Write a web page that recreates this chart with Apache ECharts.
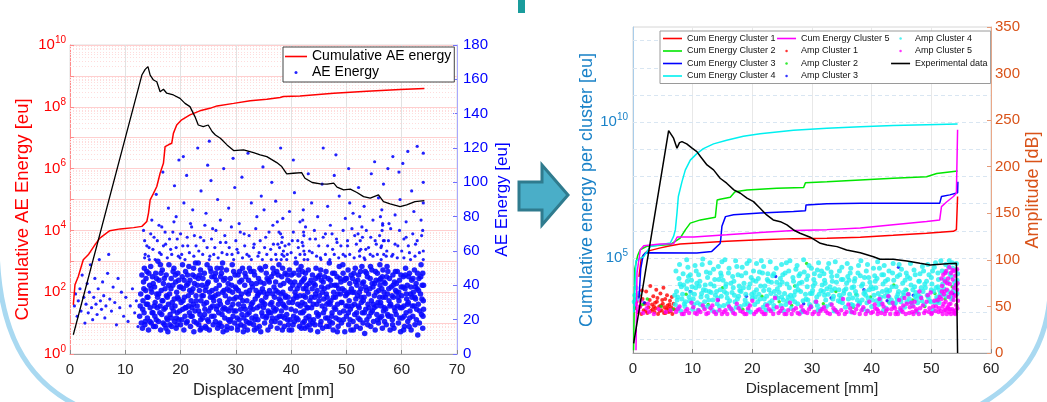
<!DOCTYPE html>
<html><head><meta charset="utf-8">
<script src="https://cdn.jsdelivr.net/npm/echarts@6.0.0/dist/echarts.min.js"></script>
<style>html,body{margin:0;padding:0;background:#fff}#c{width:1047px;height:402px}</style>
</head><body><div id="c"></div>
<script>
// ---------- LEFT CHART DATA ----------
// Cumulative AE energy [eu] vs displacement [mm]
const cumAe = [[0.6,39],[0.9,174],[1.5,324],[2.4,1.12e3],[3.3,1.62e3],[4.5,3.39e3],[5.4,5.62e3],[7.2,9.77e3],[9.1,1.12e4],[11.5,1.23e4],[13.0,1.35e4],[13.9,1.95e4],[14.2,3.63e4],[14.5,9.77e4],[15.1,1.58e5],[15.7,2.63e5],[16.3,7.08e5],[16.9,1.48e6],[17.2,5.13e6],[17.8,5.89e6],[18.4,6.61e6],[18.7,1.38e7],[19.3,2.57e7],[20.2,3.80e7],[21.7,5.50e7],[23.5,7.41e7],[25.3,8.91e7],[26.6,1.07e8],[29.6,1.29e8],[32.6,1.58e8],[35.6,1.74e8],[38.0,2.0e8],[38.6,2.14e8],[41.6,2.24e8],[47.7,2.75e8],[53.7,3.16e8],[59.7,3.63e8],[64.1,3.89e8]];
// experimental load curve (black), read on the 0-180 scale
const loadLeft = [[0.6,11.2],[13.0,162.5],[13.6,165.8],[14.1,167.4],[14.5,162.5],[15.1,159.6],[15.7,158.6],[16.3,152.8],[16.9,154.2],[17.5,151.9],[18.7,150.9],[19.9,148.9],[20.8,146.0],[21.7,144.1],[22.6,138.3],[23.2,133.4],[24.1,132.5],[25.0,133.4],[25.7,129.6],[26.3,127.6],[27.2,125.7],[28.4,121.8],[29.6,118.5],[31.4,118.9],[33.2,117.3],[34.4,116.0],[35.6,115.0],[37.4,111.5],[38.3,109.2],[39.2,104.9],[40.4,105.3],[41.9,105.7],[42.5,102.4],[43.8,99.9],[45.3,99.1],[46.5,98.9],[47.7,99.5],[48.3,97.2],[49.5,95.6],[50.7,96.0],[51.9,94.1],[53.1,91.7],[54.3,90.8],[55.8,92.7],[56.7,88.8],[57.9,87.5],[59.7,85.9],[60.9,86.9],[62.4,88.8],[64.1,89.4]];
// AE energy hits [eu]
const aeEnergy = [
[0.8,28],[1.0,35],[1.3,22],[1.5,31],[1.8,38],[2.0,25],[2.2,46],[2.5,33],[2.7,18],[2.9,29],[3.1,41],[3.3,24],[3.5,36],[3.7,52],[3.9,27],[4.1,20],[4.3,33],[4.5,44],[4.7,29],[4.9,23],[5.1,38],[5.3,55],[5.5,31],[5.7,26],[5.9,42],[6.1,34],[6.3,21],[6.5,28],[6.8,47],[7.0,58],[7.2,32],[7.5,25],[7.8,39],[8.1,30],[8.4,17],[8.7,44],[9.0,27],[9.3,36],[9.7,22],[10.1,33],[10.5,19],[10.9,28],[11.3,38],[11.7,24],[12.0,31],[12.3,16],
[12.6,22],[12.8,35],[12.9,18],[13.0,46],[12.7,28],
[13.1,15],[13.2,31],[13.3,42],[13.4,24],[13.5,56],[13.6,19],[13.7,37],[13.8,29],[13.9,48],[13.5,66],[13.3,72],
[14.0,21],[14.1,33],[14.2,14],[14.4,40],[14.5,27],[14.6,51],[14.7,18],[14.8,36],[14.9,45],[14.3,62],[14.8,78],
[15.0,24],[15.1,16],[15.3,39],[15.4,30],[15.5,47],[15.6,20],[15.7,35],[15.8,27],[15.9,54],[15.2,68],[15.6,93],
[16.0,19],[16.1,43],[16.3,28],[16.4,14],[16.5,37],[16.6,23],[16.7,49],[16.8,31],[16.9,41],[16.2,59],[16.6,74],[16.8,106],
[17.0,26],[17.1,17],[17.2,38],[17.4,46],[17.5,21],[17.6,33],[17.7,13],[17.8,29],[17.9,52],[17.3,64],[17.8,85],
[18.0,35],[18.1,23],[18.3,44],[18.4,16],[18.5,30],[18.6,40],[18.7,25],[18.8,50],[18.9,19],[18.2,61],[18.6,71],[18.9,98],
[19.0,28],[19.1,42],[19.2,15],[19.3,36],[19.4,24],[19.5,47],[19.6,32],[19.7,20],[19.8,39],[19.9,56],[19.4,67],[19.7,113],[19.2,80],
[20.0,17],[20.1,30],[20.3,45],[20.4,26],[20.5,38],[20.6,14],[20.7,33],[20.8,22],[20.9,48],[20.2,58],[20.6,88],[20.5,115],
[21.0,27],[21.1,40],[21.2,19],[21.4,34],[21.5,51],[21.6,24],[21.7,43],[21.8,16],[21.9,31],[21.3,63],[21.8,76],[21.1,104],
[22.0,36],[22.1,22],[22.2,46],[22.3,29],[22.4,13],[22.5,41],[22.6,25],[22.7,53],[22.8,34],[22.9,18],[22.5,69],[22.2,84],
[23.0,28],[23.2,44],[23.3,17],[23.4,37],[23.5,23],[23.6,49],[23.7,31],[23.8,15],[23.9,40],[23.3,60],[23.7,95],[23.1,120],
[24.0,21],[24.1,34],[24.3,47],[24.4,26],[24.5,16],[24.6,39],[24.7,30],[24.8,52],[24.9,20],[24.2,66],[24.6,82],[24.9,110],
[25.0,42],[25.1,25],[25.2,14],[25.4,33],[25.5,48],[25.6,22],[25.7,37],[25.8,28],[25.9,17],[25.3,57],[25.8,73],[25.5,101],[25.2,124],
[26.0,31],[26.1,45],[26.3,19],[26.4,38],[26.5,26],[26.6,50],[26.7,15],[26.8,35],[26.9,24],[26.2,62],[26.7,90],
[27.0,40],[27.1,18],[27.2,29],[27.4,47],[27.5,23],[27.6,36],[27.7,13],[27.8,43],[27.9,27],[27.5,59],[27.2,78],[27.8,108],
[28.0,21],[28.1,34],[28.3,49],[28.4,16],[28.5,30],[28.6,41],[28.7,25],[28.8,37],[28.9,19],[28.2,65],[28.7,85],
[29.0,44],[29.1,27],[29.2,15],[29.4,36],[29.5,22],[29.6,48],[29.7,32],[29.8,18],[29.9,39],[29.3,58],[29.8,97],[29.5,114],
[30.0,25],[30.1,38],[30.3,14],[30.4,46],[30.5,29],[30.6,20],[30.7,42],[30.8,33],[30.9,17],[30.2,61],[30.6,76],
[31.0,35],[31.1,23],[31.2,50],[31.4,28],[31.5,16],[31.6,40],[31.7,26],[31.8,45],[31.9,19],[31.5,70],[31.1,103],
[32.0,31],[32.1,14],[32.3,43],[32.4,24],[32.5,37],[32.6,18],[32.7,48],[32.8,29],[32.9,21],[32.4,57],[32.8,88],[32.2,117],
[33.0,39],[33.1,26],[33.2,17],[33.4,46],[33.5,32],[33.6,22],[33.7,41],[33.8,15],[33.9,34],[33.3,64],[33.8,80],
[34.0,20],[34.1,44],[34.3,28],[34.4,36],[34.5,13],[34.6,49],[34.7,24],[34.8,38],[34.9,30],[34.2,59],[34.6,92],[34.9,109],
[35.0,27],[35.1,41],[35.2,18],[35.4,33],[35.5,47],[35.6,22],[35.7,35],[35.8,14],[35.9,43],[35.4,68],[35.1,84],
[36.0,24],[36.1,37],[36.3,16],[36.4,45],[36.5,30],[36.6,21],[36.7,50],[36.8,27],[36.9,39],[36.3,61],[36.7,75],[36.5,100],
[37.0,33],[37.1,19],[37.2,42],[37.3,26],[37.4,48],[37.5,15],[37.6,36],[37.7,29],[37.8,52],[37.9,22],[37.6,64],[37.8,71],[37.2,89],
[38.0,18],[38.05,40],[38.1,31],[38.2,55],[38.25,25],[38.3,45],[38.4,14],[38.5,36],[38.6,60],[38.7,28],[38.8,21],[38.9,47],[38.4,68],[38.1,120],
[39.0,34],[39.2,23],[39.4,43],[39.5,17],[39.6,30],[39.7,49],[39.8,20],[39.9,38],[39.3,58],[39.7,83],
[40.0,26],[40.1,14],[40.3,40],[40.4,32],[40.5,47],[40.6,19],[40.7,36],[40.8,25],[40.9,53],[40.2,66],[40.6,94],[40.4,113],
[41.0,21],[41.1,38],[41.2,29],[41.4,46],[41.5,16],[41.6,34],[41.7,24],[41.8,51],[41.9,42],[41.3,62],[41.6,77],
[42.0,30],[42.05,48],[42.1,18],[42.15,63],[42.2,38],[42.25,71],[42.3,25],[42.35,55],[42.4,44],[42.5,15],[42.6,33],[42.7,21],[42.8,40],[42.9,27],[42.2,84],
[43.0,36],[43.1,49],[43.2,22],[43.4,31],[43.5,14],[43.6,43],[43.7,27],[43.8,38],[43.9,18],[43.3,60],[43.7,88],[43.1,105],
[44.0,29],[44.1,41],[44.3,17],[44.4,35],[44.5,50],[44.6,24],[44.7,37],[44.8,13],[44.9,45],[44.4,67],[44.8,80],
[45.0,23],[45.1,34],[45.2,46],[45.4,19],[45.5,39],[45.6,28],[45.7,15],[45.8,42],[45.9,32],[45.3,56],[45.6,99],[45.8,120],
[46.0,38],[46.1,26],[46.3,48],[46.4,16],[46.5,33],[46.6,21],[46.7,44],[46.8,30],[46.9,53],[46.2,70],[46.6,86],
[47.0,19],[47.1,43],[47.2,31],[47.4,24],[47.5,47],[47.6,14],[47.7,36],[47.8,27],[47.9,40],[47.5,61],[47.1,75],[47.8,104],
[48.0,33],[48.1,21],[48.3,45],[48.4,29],[48.5,16],[48.6,38],[48.7,51],[48.8,24],[48.9,35],[48.3,65],[48.7,92],[48.1,116],
[49.0,42],[49.1,18],[49.2,30],[49.4,47],[49.5,25],[49.6,37],[49.7,13],[49.8,44],[49.9,28],[49.4,58],[49.8,79],
[50.0,22],[50.1,35],[50.3,49],[50.4,17],[50.5,31],[50.6,41],[50.7,26],[50.8,14],[50.9,38],[50.2,63],[50.6,88],[50.4,108],
[51.0,28],[51.1,44],[51.2,19],[51.4,36],[51.5,23],[51.6,50],[51.7,32],[51.8,16],[51.9,40],[51.5,69],[51.2,82],
[52.0,34],[52.1,21],[52.2,46],[52.3,27],[52.4,57],[52.5,15],[52.6,38],[52.7,30],[52.8,51],[52.9,24],[52.5,66],[52.8,74],[52.2,97],
[53.0,18],[53.1,42],[53.2,33],[53.3,12],[53.4,48],[53.5,26],[53.6,37],[53.7,20],[53.8,45],[53.9,29],[53.5,61],[53.2,86],
[54.0,35],[54.1,22],[54.3,44],[54.4,16],[54.5,31],[54.6,49],[54.7,25],[54.8,39],[54.9,19],[54.3,58],[54.8,78],[54.5,105],
[55.0,27],[55.1,41],[55.2,14],[55.4,36],[55.5,23],[55.6,47],[55.7,30],[55.8,18],[55.9,43],[55.4,64],[55.8,91],[55.1,112],
[56.0,33],[56.05,52],[56.1,21],[56.2,44],[56.25,62],[56.3,28],[56.4,38],[56.45,72],[56.5,15],[56.6,49],[56.7,25],[56.75,58],[56.8,36],[56.9,19],[56.4,84],[56.7,99],
[57.0,41],[57.1,26],[57.2,17],[57.4,35],[57.5,48],[57.6,22],[57.7,31],[57.8,44],[57.9,14],[57.3,60],[57.7,76],[57.5,108],
[58.0,29],[58.1,39],[58.3,20],[58.4,46],[58.5,33],[58.6,15],[58.7,42],[58.8,25],[58.9,37],[58.2,57],[58.8,81],[58.4,115],
[59.0,23],[59.1,36],[59.2,48],[59.4,18],[59.5,31],[59.6,43],[59.7,27],[59.8,13],[59.9,39],[59.3,63],[59.7,90],[59.5,106],
[60.0,34],[60.1,21],[60.3,45],[60.4,28],[60.5,16],[60.6,38],[60.7,50],[60.8,24],[60.9,32],[60.4,67],[60.8,77],[60.2,111],
[61.0,40],[61.1,19],[61.2,30],[61.4,47],[61.5,25],[61.6,35],[61.7,14],[61.8,43],[61.9,28],[61.4,59],[61.8,95],[61.1,118],
[62.0,22],[62.1,36],[62.3,49],[62.4,17],[62.5,32],[62.6,41],[62.7,26],[62.8,38],[62.9,11],[62.5,64],[62.2,83],[62.8,121],
[63.0,29],[63.1,44],[63.2,18],[63.4,35],[63.5,52],[63.6,23],[63.7,40],[63.8,15],[63.9,31],[63.8,47],[63.9,60],[63.8,72],[63.9,100],[63.9,117],[63.5,78],
[13.15,26],[13.35,38],[13.55,17],[13.75,44],[13.95,33],[13.45,50],
[14.05,29],[14.25,47],[14.45,19],[14.65,38],[14.85,24],[14.35,55],
[15.05,41],[15.25,28],[15.45,16],[15.65,44],[15.85,33],[15.35,22],
[16.05,35],[16.25,24],[16.45,47],[16.65,31],[16.85,18],[16.35,52],
[17.05,44],[17.25,27],[17.45,34],[17.65,20],[17.85,40],[17.35,15],
[18.05,17],[18.25,38],[18.45,27],[18.65,48],[18.85,32],[18.35,21],
[19.05,46],[19.25,21],[19.45,33],[19.65,43],[19.85,25],[19.35,17],
[20.05,39],[20.25,20],[20.45,31],[20.65,43],[20.85,27],[20.35,52],
[21.05,18],[21.25,46],[21.45,28],[21.65,37],[21.85,22],[21.35,41],
[22.05,27],[22.25,38],[22.45,19],[22.65,45],[22.85,31],[22.35,50],
[23.05,40],[23.25,25],[23.45,46],[23.65,20],[23.85,34],[23.55,14],
[24.05,44],[24.25,29],[24.45,37],[24.65,15],[24.85,41],[24.35,23],
[25.05,19],[25.25,36],[25.45,27],[25.65,45],[25.85,33],[25.35,50],
[26.05,22],[26.25,34],[26.45,43],[26.65,28],[26.85,17],[26.35,47],
[27.05,31],[27.25,45],[27.45,16],[27.65,26],[27.85,37],[27.35,50],
[28.05,44],[28.25,26],[28.45,38],[28.65,20],[28.85,32],[28.35,14],
[29.05,20],[29.25,40],[29.45,29],[29.65,25],[29.85,46],[29.35,52],
[30.05,33],[30.25,21],[30.45,37],[30.65,48],[30.85,26],[30.35,16],
[31.05,43],[31.25,31],[31.45,21],[31.65,47],[31.85,36],[31.35,13],
[32.05,23],[32.25,35],[32.45,50],[32.65,27],[32.85,41],[32.35,18],
[33.05,30],[33.25,48],[33.45,20],[33.65,37],[33.85,27],[33.35,14],
[34.05,35],[34.25,16],[34.45,42],[34.65,31],[34.85,22],[34.35,50],
[35.05,36],[35.25,29],[35.45,21],[35.65,44],[35.85,25],[35.35,51],
[36.05,42],[36.25,29],[36.45,19],[36.65,35],[36.85,47],[36.35,24],
[37.05,25],[37.25,37],[37.45,21],[37.65,46],[37.85,32],[37.35,55],
[38.15,35],[38.35,22],[38.45,50],[38.55,29],[38.65,41],[38.75,16],[38.95,33],[38.35,58],
[39.05,27],[39.25,46],[39.45,33],[39.65,14],[39.85,42],[39.35,20],
[40.05,46],[40.25,30],[40.45,22],[40.65,42],[40.85,34],[40.35,17],
[41.05,33],[41.25,20],[41.45,40],[41.65,28],[41.85,15],[41.35,49],
[42.08,24],[42.18,43],[42.28,34],[42.38,19],[42.48,29],[42.58,47],[42.68,38],[42.88,16],[42.3,60],
[43.05,27],[43.25,41],[43.45,20],[43.65,33],[43.85,46],[43.35,17],
[44.05,20],[44.25,33],[44.45,44],[44.65,29],[44.85,22],[44.35,40],
[45.05,31],[45.25,17],[45.45,43],[45.65,36],[45.85,24],[45.35,49],
[46.05,45],[46.25,21],[46.45,29],[46.65,39],[46.85,16],[46.35,35],
[47.05,29],[47.25,40],[47.45,18],[47.65,33],[47.85,47],[47.35,22],
[48.05,26],[48.25,40],[48.45,35],[48.65,20],[48.85,44],[48.35,13],
[49.05,30],[49.25,38],[49.45,20],[49.65,43],[49.85,34],[49.35,52],
[50.05,44],[50.25,28],[50.45,36],[50.65,20],[50.85,46],[50.35,24],
[51.05,36],[51.25,14],[51.45,29],[51.65,42],[51.85,24],[51.35,47],
[52.05,43],[52.15,28],[52.35,36],[52.45,20],[52.55,48],[52.65,33],[52.85,41],[52.35,60],
[53.05,31],[53.25,24],[53.45,39],[53.65,47],[53.85,17],[53.35,55],
[54.05,27],[54.25,38],[54.45,24],[54.65,41],[54.85,29],[54.35,51],
[55.05,34],[55.25,48],[55.45,28],[55.65,20],[55.85,37],[55.35,43],
[56.08,40],[56.18,30],[56.28,55],[56.38,22],[56.48,45],[56.58,33],[56.68,66],[56.78,42],[56.88,27],[56.55,76],
[57.05,33],[57.25,45],[57.45,23],[57.65,38],[57.85,28],[57.35,51],
[58.05,22],[58.25,34],[58.45,40],[58.65,27],[58.85,48],[58.35,17],
[59.05,41],[59.25,28],[59.45,36],[59.65,21],[59.85,46],[59.35,33],
[60.05,27],[60.25,39],[60.45,22],[60.65,46],[60.85,35],[60.35,14],
[61.05,29],[61.25,45],[61.45,21],[61.65,39],[61.85,33],[61.35,16],
[62.05,44],[62.25,28],[62.45,39],[62.65,20],[62.85,47],[62.35,33],
[63.05,37],[63.25,25],[63.45,45],[63.65,32],[63.85,22],[63.95,40],[63.95,26],
[13.6,58],[13.9,63],[14.2,57],[14.6,70],[15.0,61],[15.4,55],[15.8,66],[16.1,75],[16.5,58],[16.9,63],[17.2,71],[17.6,56],[18.0,67],[18.4,58],[18.8,77],[19.2,62],[19.6,57],[20.0,70],[20.4,63],[20.8,55],[21.2,68],[21.6,59],[22.0,74],[22.4,57],[22.8,63],[23.2,53],[23.6,68],[24.0,58],[24.4,75],[24.8,62],[25.2,55],[25.6,67],[26.0,58],[26.4,72],[26.8,56],[27.2,65],[27.6,53],[28.0,69],[28.4,58],[28.8,62],[29.2,74],[29.6,55],[30.0,66],[30.4,59],[30.8,71],[31.2,56],[31.6,63],[32.0,58],[32.4,69],[32.8,55],[33.2,62],[33.6,73],[34.0,57],[34.4,66],[34.8,55],[35.2,62],[35.6,58],[36.0,71],[36.4,55],[36.8,64],[37.2,58],[37.5,77],[37.9,62],[38.1,70],[38.3,65],[38.5,79],[38.7,57],[38.9,63],[39.2,55],[39.6,64],[40.0,59],[40.4,71],[40.8,56],[41.2,66],[41.6,58],[42.0,65],[42.1,78],[42.3,69],[42.45,58],[42.6,74],[43.0,55],[43.4,67],[43.8,59],[44.2,72],[44.6,57],[45.0,63],[45.4,55],[45.8,68],[46.2,58],[46.6,63],[47.0,55],[47.4,70],[47.8,58],[48.2,67],[48.6,56],[49.0,63],[49.4,72],[49.8,57],[50.2,66],[50.6,58],[51.0,73],[51.4,56],[51.8,64],[52.1,70],[52.4,80],[52.6,61],[52.9,68],[53.2,56],[53.6,72],[54.0,62],[54.4,68],[54.8,57],[55.2,66],[55.6,58],[56.0,69],[56.15,80],[56.35,63],[56.55,75],[56.85,66],[57.2,57],[57.6,66],[58.0,73],[58.4,58],[58.8,64],[59.2,56],[59.6,72],[60.0,60],[60.4,56],[60.8,68],[61.2,63],[61.6,55],[62.0,70],[62.4,57],[62.8,66],[63.2,59],[63.6,69],[63.9,55],[63.9,88]
];

// ---------- RIGHT CHART DATA ----------
const cumCluster1 = [[1.0,2.0e4],[1.4,1.0e5],[2.3,1.74e5],[4.6,2.34e5],[6.25,2.82e5],[7.9,3.24e5],[15.7,4.07e5],[21.3,4.68e5],[26.9,5.13e5],[32.5,5.25e5],[38.1,5.75e5],[43.6,6.76e5],[49.2,8.13e5],[53.7,9.55e5],[54.2,1.10e6],[54.4,1.82e7]];
const cumCluster2 = [[0.1,40],[0.3,4.0e4],[0.8,1.26e5],[1.2,2.0e5],[2.3,2.69e5],[6.25,3.09e5],[7.9,5.37e5],[8.8,1.10e6],[9.6,1.91e6],[11.3,2.51e6],[13.8,3.16e6],[14.1,1.35e7],[14.6,1.45e7],[16.3,1.70e7],[17.1,2.75e7],[19.1,3.16e7],[24.1,3.63e7],[28.6,3.89e7],[28.9,5.89e7],[32.5,6.31e7],[38.1,7.41e7],[43.6,8.51e7],[49.2,9.77e7],[50.9,1.29e8],[54.4,1.58e8]];
const cumCluster3 = [[1.0,3.2e3],[1.3,4.0e4],[1.7,1.26e5],[2.1,1.55e5],[10.7,1.51e5],[13.2,1.74e5],[14.6,3.39e5],[14.7,4.68e5],[14.9,1.45e6],[15.5,3.31e6],[16.85,3.89e6],[21.3,4.47e6],[26.9,5.13e6],[28.9,5.50e6],[29.0,8.91e6],[32.5,9.77e6],[38.1,1.02e7],[51.4,1.02e7],[51.7,1.82e7],[53.1,2.09e7],[54.4,2.51e7],[54.45,6.31e7]];
const cumCluster4 = [[0.15,1.0e3],[0.5,7.9e4],[1.8,1.12e5],[2.9,2.63e5],[6.25,3.55e5],[6.8,6.17e5],[7.1,1.10e6],[7.37,4.47e6],[7.6,1.82e7],[8.2,6.31e7],[8.76,1.70e8],[9.6,3.98e8],[10.7,6.92e8],[11.8,1.05e9],[13.5,1.58e9],[15.7,2.14e9],[18.5,3.02e9],[21.3,3.72e9],[26.9,5.01e9],[32.5,5.89e9],[38.1,6.76e9],[43.6,7.41e9],[49.2,7.94e9],[54.4,8.51e9]];
const cumCluster5 = [[0.5,40],[0.67,2.82e4],[1.23,2.0e5],[1.8,2.82e5],[4.6,3.24e5],[6.8,3.31e5],[7.4,5.89e5],[10.2,5.89e5],[15.7,7.08e5],[21.3,8.71e5],[26.9,1.02e6],[32.5,1.10e6],[38.1,1.26e6],[43.6,1.66e6],[49.2,2.19e6],[51.4,2.51e6],[51.7,7.76e6],[52.6,1.17e7],[53.7,1.82e7],[54.2,2.40e7],[54.4,5.25e9]];
const experimental = [[0.11,10.4],[5.97,238.8],[6.25,237.7],[6.8,230.6],[7.37,219.9],[7.8,225.9],[8.2,227.0],[9.0,224.5],[9.9,219.9],[10.7,216.2],[11.3,210.9],[12.4,201.9],[13.5,196.6],[14.6,187.6],[15.7,182.3],[16.9,175.1],[18.0,171.5],[19.1,166.2],[20.2,162.5],[21.3,155.4],[22.4,148.2],[23.5,142.9],[24.7,141.0],[25.8,137.5],[26.9,132.1],[28.0,128.6],[29.7,124.3],[31.4,117.8],[32.5,116.0],[34.2,114.2],[35.8,110.6],[38.1,107.7],[40.3,103.4],[41.4,100.6],[43.6,100.6],[45.9,98.8],[48.1,96.3],[49.8,94.5],[52.0,95.6],[54.2,96.3],[54.4,0]];
const ampCluster1 = [[0.4,48],[0.6,55],[0.8,44],[1.0,62],[1.2,50],[1.4,42],[1.6,58],[1.8,46],[2.0,53],[2.2,66],[2.4,43],[2.6,49],[2.8,57],[3.0,45],[3.2,52],[3.4,61],[3.6,44],[3.8,48],[4.0,55],[4.2,42],[4.4,50],[4.6,64],[4.8,46],[5.0,53],[5.2,43],[5.4,58],[5.6,47],[5.8,51],[6.0,44],[6.2,56],[6.4,49],[6.6,42],[6.8,53],[5.1,70],[3.9,68],[2.9,72],[6.5,60],[4.5,45],[3.3,47],[5.9,48],[1.5,67],[2.1,45],[4.1,59],[5.3,49],[6.1,52],[4.9,57],[3.7,54],[5.7,62],[6.3,45],[4.7,51],[3.5,50],[6.9,47],[5.45,43]];
const ampCluster2 = [[0.3,49],[0.8,60],[1.6,52],[2.4,58],[4.7,50],[6.7,47],[8.9,63],[12.6,52],[15.0,70],[18.4,47],[21.6,61],[24.5,55],[27.1,72],[29.1,96],[31.9,53],[34.0,66],[36.9,49],[39.8,60],[42.9,54],[45.9,68],[48.9,50],[50.6,64],[52.3,58],[53.5,71],[54.2,52],[46.9,57],[43.7,73],[37.4,63],[26.6,51]];
const ampCluster3 = [[0.4,58],[1.9,54],[9.6,66],[14.3,57],[19.0,61],[23.9,82],[28.6,53],[33.2,59],[38.7,68],[42.6,56],[47.0,62],[51.1,55],[53.7,64],[44.5,92],[29.9,49]];
const ampCluster4 = [[0.2,55],[0.3,62],[0.5,70],[0.7,58],[0.9,64],
[7.1,52],[7.3,66],[7.6,48],[7.9,74],[8.2,58],[8.4,85],[8.7,50],[9.0,69],[9.2,92],[9.5,56],[9.8,78],[10.0,47],[10.3,63],[10.6,88],[10.8,54],[11.1,72],[11.4,60],[11.6,95],[11.9,49],[12.2,67],[12.5,81],[12.7,57],[13.0,74],[13.3,46],[13.5,90],[13.8,62],[14.1,53],[14.4,79],[14.6,68],[14.9,98],[15.2,51],[15.5,71],[15.8,59],[16.0,86],[16.3,48],[16.6,65],[16.9,77],[17.1,55],[17.4,93],[17.7,61],[18.0,50],[18.2,83],[18.5,70],[18.8,57],[19.1,96],[19.3,46],[19.6,74],[19.9,63],[20.2,88],[20.4,52],[20.7,68],[21.0,80],[21.3,58],[21.5,99],[21.8,49],[22.1,72],[22.4,61],[22.6,85],[22.9,54],[23.2,76],[23.5,47],[23.7,66],[24.0,91],[24.3,59],[24.6,73],[24.8,51],[25.1,84],[25.4,64],[25.7,97],[25.9,56],[26.2,70],[26.5,48],[26.8,81],[27.0,62],[27.3,90],[27.6,53],[27.9,75],[28.1,66],[28.4,45],[28.7,87],[29.0,58],[29.2,71],[29.5,94],[29.8,50],[30.1,67],[30.3,79],[30.6,55],[30.9,89],[31.2,63],[31.4,47],[31.7,73],[32.0,85],[32.3,57],[32.5,69],[32.8,96],[33.1,52],[33.4,77],[33.6,61],[33.9,46],[34.2,83],[34.5,68],[34.7,55],[35.0,92],[35.3,64],[35.6,49],[35.8,75],[36.1,58],[36.4,86],[36.7,70],[36.9,51],[37.2,80],[37.5,62],[37.8,94],[38.0,54],[38.3,72],[38.6,47],[38.9,66],[39.1,88],[39.4,59],[39.7,76],[40.0,50],[40.2,69],[40.5,83],[40.8,56],[41.1,64],[41.3,91],[41.6,53],[41.9,74],[42.2,61],[42.4,48],[42.7,79],[43.0,67],[43.3,57],[43.5,86],[43.8,52],[44.1,71],[44.4,63],[44.6,95],[44.9,55],[45.2,75],[45.5,49],[45.7,68],[46.0,82],[46.3,58],[46.6,73],[46.8,51],[47.1,89],[47.4,65],[47.7,54],[47.9,77],[48.2,60],[48.5,93],[48.8,52],[49.0,70],[49.3,62],[49.6,84],[49.9,55],[50.1,74],[50.4,66],[50.7,97],[51.0,58],[51.2,79],[51.5,63],[51.8,88],[52.1,69],[52.4,95],[52.7,76],[53.0,99],[53.3,82],[53.6,91],[53.9,72],[54.2,96],[54.4,85],
[8.0,45],[10.9,46],[13.9,44],[16.7,45],[19.7,44],[22.3,46],[25.3,45],[28.2,44],[31.0,46],[33.7,45],[36.6,44],[39.3,45],[42.0,46],[44.8,45],[47.6,44],[50.3,46],
[9.4,60],[12.0,55],[14.8,61],[17.5,58],[20.5,60],[23.3,56],[26.0,60],[29.3,57],[32.1,62],[34.9,59],[38.4,57],[41.5,60],[44.3,58],[47.3,61],[50.9,60],
[7.5,60],[8.1,71],[8.8,55],[9.3,82],[10.1,58],[10.7,75],[11.3,52],[11.8,68],[12.4,61],[12.9,86],[13.4,57],[14.0,66],[14.5,50],[15.1,78],[15.7,64],[16.2,56],[16.8,70],[17.3,49],[17.9,67],[18.6,75],[19.2,53],[19.8,81],[20.3,65],[20.9,55],[21.4,72],[22.0,58],[22.7,77],[23.1,64],[23.6,51],[24.2,69],[24.7,80],[25.2,57],[25.8,74],[26.4,62],[27.1,55],[27.7,68],[28.3,76],[28.9,63],[29.6,52],[30.2,72],[30.8,60],[31.3,83],[31.9,66],[32.4,50],[33.0,71],[33.5,58],[34.1,76],[34.6,62],[35.1,54],[35.7,69],[36.2,78],[36.8,59],[37.3,66],[37.9,53],[38.5,74],[39.0,62],[39.5,81],[40.1,57],[40.7,70],[41.2,52],[41.8,66],[42.3,77],[42.9,60],[43.4,71],[44.0,54],[44.5,66],[45.1,59],[45.6,78],[46.2,63],[46.7,54],[47.2,71],[47.8,62],[48.4,56],[48.9,74],[49.5,60],[50.0,68],[50.6,54],[51.1,71],[51.7,62],[52.2,79],[52.8,66],[53.4,58],[53.9,76],[54.3,64],
[7.4,57],[7.7,80],[8.3,63],[8.6,53],[9.1,77],[9.7,65],[10.2,52],[10.5,70],[11.0,84],[11.5,64],[12.1,73],[12.6,50],[13.1,65],[13.7,79],[14.2,59],[14.7,86],[15.3,66],[15.9,53],[16.4,75],[17.0,62],[17.6,84],[18.1,66],[18.7,52],[19.4,70],[20.0,59],[20.6,77],[21.1,63],[21.7,86],[22.2,52],[22.8,68],[23.4,83],[23.9,61],[24.5,65],[25.0,76],[25.6,52],[26.1,88],[26.7,58],[27.2,66],[27.8,83],[28.5,56],[29.1,79],[29.7,64],[30.4,85],[30.9,51],[31.5,67],[32.2,75],[32.7,63],[33.2,87],[33.8,69],[34.4,56],[34.9,79],[35.4,67],[36.0,82],[36.6,52],[37.0,71],[37.6,57],[38.1,83],[38.7,64],[39.2,54],[39.9,71],[40.4,62],[40.9,80],[41.4,57],[42.0,84],[42.5,68],[43.1,54],[43.7,78],[44.2,60],[44.7,84],[45.3,65],[45.9,55],[46.4,80],[46.9,68],[47.5,58],[48.1,85],[48.6,66],[49.2,77],[49.7,56],[50.2,88],[50.8,70],[51.3,54],[51.9,74],[52.5,61],[53.1,85],[53.7,67],[54.3,78],
[7.2,88],[7.8,95],[8.5,73],[9.0,100],[9.6,84],[10.4,94],[11.2,77],[11.7,101],[12.3,87],[12.9,97],[13.6,72],[14.3,93],[14.8,83],[15.4,100],[16.1,91],[16.7,82],[17.2,99],[17.8,72],[18.3,92],[18.9,86],[19.5,99],[20.1,78],[20.7,96],[21.2,87],[21.9,93],[22.5,79],[23.0,98],[23.6,85],[24.1,76],[24.9,95],[25.5,86],[26.3,99],[26.9,77],[27.5,94],[28.0,85],[28.6,100],[29.3,83],[29.9,91],[30.5,75],[31.1,97],[31.6,88],[32.1,78],[32.6,91],[33.3,82],[33.9,98],[34.6,88],[35.2,79],[35.9,96],[36.5,91],[37.1,77],[37.7,86],[38.2,99],[38.8,81],[39.3,95],[40.3,91],[40.6,77],[41.0,98],[41.7,84],[42.1,94],[42.9,88],[43.6,96],[44.3,82],[45.0,90],[45.8,86],[46.5,96],[47.3,84],[48.0,77],[48.7,88],[49.4,95],[50.0,81],[50.5,92],[51.1,86],[51.6,99],[52.3,87],[52.9,92],[53.5,97],[54.1,89],
[7.0,62],[9.9,71],[12.8,66],[15.6,74],[18.9,63],[21.9,67],[24.9,60],[27.4,72],[30.0,64],[33.3,67],[36.3,63],[39.6,68],[42.6,65],[45.4,62],[48.3,70],[51.4,67],[53.2,61]];
const ampCluster5 = [[0.5,52],[0.9,45],[1.3,56],[1.7,43],[2.3,48],[2.7,44],[3.5,42],[4.3,47],[5.5,44],[6.3,46],[1.1,49],[2.5,53],
[7.2,44],[7.8,50],[8.5,42],[9.1,47],[9.8,54],[10.4,43],[11.0,46],[11.7,51],[12.3,42],[13.0,48],[13.6,44],[14.2,57],[14.9,42],[15.5,46],[16.1,50],[16.8,43],[17.4,53],[18.0,45],[18.7,42],[19.3,48],[20.0,56],[20.6,44],[21.2,47],[21.9,42],[22.5,51],[23.1,45],[23.8,59],[24.4,43],[25.0,48],[25.7,42],[26.3,54],[26.9,46],[27.6,43],[28.2,50],[28.8,44],[29.5,47],[30.1,42],[30.7,55],[31.4,45],[32.0,49],[32.6,43],[33.3,52],[33.9,46],[34.5,42],[35.2,58],[35.8,44],[36.4,48],[37.1,43],[37.7,51],[38.3,46],[39.0,42],[39.6,55],
[40.2,44],[40.5,52],[40.9,47],[41.3,58],[41.6,43],[42.0,50],[42.4,45],[42.8,61],[43.1,42],[43.5,54],[43.9,48],[44.2,44],[44.6,57],[45.0,46],[45.3,51],[45.7,42],[46.1,63],[46.4,49],[46.8,44],[47.2,55],[47.5,47],[47.9,42],[48.3,59],[48.6,51],[49.0,45],[49.4,62],[49.7,48],[50.1,43],[50.5,56],[50.8,50],[51.2,44],[51.4,60],[41.0,42],[44.0,42],[47.0,42],[50.0,42],[45.5,59],[48.0,66],[49.9,65],[46.6,54],[43.3,47],
[51.6,45],[51.7,58],[51.8,72],[51.9,50],[52.0,84],[52.1,63],[52.2,46],[52.3,77],[52.4,55],[52.5,88],[52.6,68],[52.7,49],[52.8,80],[52.9,60],[53.0,44],[53.1,74],[53.2,53],[53.3,86],[53.4,65],[53.5,47],[53.6,79],[53.7,57],[53.8,70],[53.9,43],[54.0,83],[54.1,62],[54.2,51],[54.3,90],[54.4,75],[54.45,56],[51.9,42],[52.6,42],[53.3,42],[54.0,42],[52.2,66],[53.0,92],[53.8,88],[54.3,68],[51.7,80],[52.8,48],
[7.5,47],[8.2,42],[8.8,45],[9.4,43],[10.1,49],[10.7,42],[11.3,44],[12.0,47],[12.6,43],[13.3,51],[13.9,42],[14.5,46],[15.2,44],[15.8,42],[16.5,47],[17.1,42],[17.7,48],[18.4,44],[19.0,42],[19.6,51],[20.3,42],[20.9,46],[21.6,44],[22.2,42],[22.8,47],[23.5,42],[24.1,49],[24.7,45],[25.4,42],[26.0,46],[26.6,42],[27.3,48],[27.9,42],[28.5,46],[29.2,43],[29.8,50],[30.4,44],[31.1,42],[31.7,47],[32.3,45],[33.0,42],[33.6,48],[34.2,44],[34.9,46],[35.5,42],[36.1,52],[36.7,44],[37.4,47],[38.0,42],[38.6,49],[39.3,45],[39.9,43],[40.6,48],[41.1,45],[41.8,53],[42.2,42],[42.6,47],[43.7,50],[44.4,42],[44.8,48],[45.2,44],[45.9,53],[46.3,43],[47.0,50],[47.4,45],[48.1,48],[48.8,43],[49.2,55],[49.6,44],[50.3,50],[50.7,45],[51.1,57],[51.3,48],[51.75,66],[52.05,53],[52.35,86],[52.65,75],[52.95,52],[53.25,64],[53.55,89],[53.85,61],[54.15,73],[54.35,48],[52.4,46],[53.1,47],[53.7,45],[54.1,46]];

// ---------- helpers ----------
const FONT = 'Liberation Sans, Arial, Helvetica, sans-serif';
const toLog = arr => arr.map(p => [p[0], Math.log10(p[1])]);
const leftMinorGrid = [];
for (let d = 0; d < 10; d++) for (let k = 2; k <= 9; k++) leftMinorGrid.push({ yAxis: d + Math.log10(k) });
const rightDecadeGrid = [];
for (let e = 2; e <= 13; e++) rightDecadeGrid.push({ yAxis: e });

const RED = '#ff0000', BLUE = '#0000ff', LBLUE = '#1a82c8', ORANGE = '#d95319', TXT = '#262626';
function supLabel(color) {
  return { b: { fontSize: 15, color: color, fontFamily: FONT }, s: { fontSize: 10, color: color, fontFamily: FONT, padding: [0, 0, 10, 0] } };
}
const lineIconL = 'path://M0,0h22v1.6h-22z';
const lineIconR = 'path://M0,0h19v1.6h-19z';

const chart = echarts.init(document.getElementById('c'), null, { renderer: 'canvas' });
const option = {
  animation: false,
  backgroundColor: '#ffffff',
  textStyle: { fontFamily: FONT },
  graphic: [
    { type: 'bezierCurve', silent: true, z: -10, shape: { x1: -3, y1: 245, cpx1: -2, cpy1: 330, cpx2: 25, cpy2: 380, x2: 78, y2: 406 }, style: { stroke: '#a9d9f1', lineWidth: 5, fill: null } },
    { type: 'bezierCurve', silent: true, z: -10, shape: { x1: 1050, y1: 295, cpx1: 1046, cpy1: 350, cpx2: 1020, cpy2: 382, x2: 978, y2: 406 }, style: { stroke: '#a9d9f1', lineWidth: 5, fill: null } },
    { type: 'polygon', silent: true, shape: { points: [[519,182],[542,182],[542,165],[568,195],[542,225],[542,210],[519,210]] }, style: { fill: '#4aaec8', stroke: '#2f7b8e', lineWidth: 3 } },
    { type: 'rect', silent: true, shape: { x: 518, y: 0, width: 7, height: 13 }, style: { fill: '#1a9c9c' } }
  ],
  legend: [
    {
      data: [{ name: 'Cumulative AE energy', icon: lineIconL }, { name: 'AE Energy', icon: 'circle' }],
      orient: 'vertical', left: 283, top: 47,
      itemWidth: 22, itemHeight: 3, itemGap: 1, padding: [2, 3, 2, 2],
      borderColor: '#444', borderWidth: 1, backgroundColor: '#fff',
      textStyle: { fontSize: 14, color: '#000', fontFamily: FONT, lineHeight: 15 }
    },
    {
      data: [
        { name: 'Cum Energy Cluster 1', icon: lineIconR }, { name: 'Cum Energy Cluster 2', icon: lineIconR },
        { name: 'Cum Energy Cluster 3', icon: lineIconR }, { name: 'Cum Energy Cluster 4', icon: lineIconR },
        { name: 'Cum Energy Cluster 5', icon: lineIconR },
        { name: 'Amp Cluster 1', icon: 'circle' }, { name: 'Amp Cluster 2', icon: 'circle' }, { name: 'Amp Cluster 3', icon: 'circle' },
        { name: 'Amp Cluster 4', icon: 'circle' }, { name: 'Amp Cluster 5', icon: 'circle' },
        { name: 'Experimental data', icon: lineIconR }
      ],
      orient: 'vertical', left: 660, top: 31, height: 56,
      itemWidth: 19, itemHeight: 2.5, itemGap: 1.5, padding: [2, 3, 2, 3],
      borderColor: '#9a9a9a', borderWidth: 1, backgroundColor: '#fff',
      textStyle: { fontSize: 9, color: '#111', fontFamily: FONT, lineHeight: 11 }
    }
  ],
  grid: [
    { left: 70, top: 45, width: 387, height: 309, show: true, borderColor: '#dedede', borderWidth: 1, outerBoundsMode: 'none' },
    { left: 633, top: 27, width: 358, height: 326, show: true, borderColor: '#d6d6d6', borderWidth: 1, outerBoundsMode: 'none' }
  ],
  xAxis: [
    { gridIndex: 0, type: 'value', min: 0, max: 70, interval: 10,
      name: 'Displacement [mm]', nameLocation: 'middle', nameGap: 25,
      nameTextStyle: { fontSize: 16.5, color: TXT, fontFamily: FONT },
      axisLine: { show: true, lineStyle: { color: '#a0a0a0' } },
      axisTick: { show: true, inside: true, length: 4, lineStyle: { color: '#888' } },
      axisLabel: { fontSize: 15, color: TXT, margin: 8, fontFamily: FONT },
      splitLine: { show: true, lineStyle: { color: '#e2e2e2', width: 1 } } },
    { gridIndex: 1, type: 'value', min: 0, max: 60, interval: 10,
      name: 'Displacement [mm]', nameLocation: 'middle', nameGap: 26,
      nameTextStyle: { fontSize: 15.5, color: TXT, fontFamily: FONT },
      axisLine: { show: true, lineStyle: { color: '#a0a0a0' } },
      axisTick: { show: true, inside: true, length: 4, lineStyle: { color: '#888' } },
      axisLabel: { fontSize: 15, color: TXT, margin: 8, fontFamily: FONT },
      splitLine: { show: true, lineStyle: { color: '#e8e8e8', width: 1 } } }
  ],
  yAxis: [
    { gridIndex: 0, type: 'value', min: 0, max: 10, interval: 1, position: 'left',
      name: 'Cumulative AE Energy [eu]', nameLocation: 'middle', nameGap: 38,
      nameTextStyle: { fontSize: 18.5, color: RED, fontFamily: FONT, padding: [0, 20, 0, 0] },
      axisLine: { show: true, lineStyle: { color: '#ff8a8a' } },
      axisTick: { show: true, inside: true, length: 4, lineStyle: { color: '#ff8a8a' } },
      axisLabel: { margin: 4, color: RED, fontFamily: FONT,
        formatter: v => (Math.round(v) % 2 === 0 ? '{b|10}{s|' + Math.round(v) + '}' : ''), rich: supLabel(RED) },
      splitLine: { show: true, lineStyle: { color: '#ffcfcf', width: 1 } } },
    { gridIndex: 0, type: 'value', min: 0, max: 180, interval: 20, position: 'right',
      name: 'AE Energy [eu]', nameLocation: 'middle', nameGap: 37,
      nameTextStyle: { fontSize: 17, color: BLUE, fontFamily: FONT },
      axisLine: { show: true, lineStyle: { color: '#a8a8ff' } },
      axisTick: { show: true, inside: true, length: 4, lineStyle: { color: '#7070ff' } },
      axisLabel: { fontSize: 15, color: BLUE, margin: 6, fontFamily: FONT },
      splitLine: { show: false } },
    { gridIndex: 0, type: 'value', min: 0, max: 180, show: false, splitLine: { show: false } },
    { gridIndex: 1, type: 'value', min: 1.5, max: 13.5, interval: 0.5, position: 'left',
      name: 'Cumulative energy per cluster [eu]', nameLocation: 'middle', nameGap: 35,
      nameTextStyle: { fontSize: 18, color: LBLUE, fontFamily: FONT },
      axisLine: { show: true, lineStyle: { color: '#a9cdea' } },
      axisTick: { show: false },
      axisLabel: { margin: 5, color: LBLUE, fontFamily: FONT,
        formatter: v => (v === 5 ? '{b|10}{s|5}' : (v === 10 ? '{b|10}{s|10}' : '')), rich: supLabel(LBLUE) },
      splitLine: { show: false } },
    { gridIndex: 1, type: 'value', min: 0, max: 350, interval: 50, position: 'right',
      name: 'Amplitude [dB]', nameLocation: 'middle', nameGap: 31,
      nameTextStyle: { fontSize: 18, color: ORANGE, fontFamily: FONT },
      axisLine: { show: true, lineStyle: { color: '#eaa888' } },
      axisTick: { show: true, inside: true, length: 4, lineStyle: { color: '#e59a78' } },
      axisLabel: { fontSize: 15, color: ORANGE, margin: 4, fontFamily: FONT },
      splitLine: { show: false } },
    { gridIndex: 1, type: 'value', min: 0, max: 350, show: false, splitLine: { show: false } }
  ],
  series: [
    { name: 'Cumulative AE energy', type: 'line', xAxisIndex: 0, yAxisIndex: 0, data: toLog(cumAe),
      symbol: 'none', showSymbol: false, z: 4,
      lineStyle: { color: RED, width: 1.5 }, itemStyle: { color: RED },
      markLine: { silent: true, z: 1, animation: false, symbol: ['none', 'none'], label: { show: false },
        lineStyle: { color: '#ffdcdc', type: [1, 2], width: 1 }, data: leftMinorGrid } },
    { name: 'AE Energy', type: 'scatter', xAxisIndex: 0, yAxisIndex: 1, data: aeEnergy, z: 2,
      symbol: 'circle', symbolSize: v => (v[0] > 12.4 && v[1] < 55 ? 5.5 : 3.2),
      itemStyle: { color: '#0a0aff', opacity: 0.9 } },
    { name: 'Experimental load', type: 'line', xAxisIndex: 0, yAxisIndex: 2, data: loadLeft,
      symbol: 'none', showSymbol: false, z: 5, lineStyle: { color: '#000', width: 1.3 }, itemStyle: { color: '#000' } },

    { name: 'Amp Cluster 1', type: 'scatter', xAxisIndex: 1, yAxisIndex: 4, data: ampCluster1, z: 2, symbolSize: 4, itemStyle: { color: '#ff0000' } },
    { name: 'Amp Cluster 2', type: 'scatter', xAxisIndex: 1, yAxisIndex: 4, data: ampCluster2, z: 2, symbolSize: 3.5, itemStyle: { color: '#00e600' } },
    { name: 'Amp Cluster 3', type: 'scatter', xAxisIndex: 1, yAxisIndex: 4, data: ampCluster3, z: 2, symbolSize: 3.5, itemStyle: { color: '#0000ff' } },
    { name: 'Amp Cluster 4', type: 'scatter', xAxisIndex: 1, yAxisIndex: 4, data: ampCluster4, z: 2, symbolSize: 5, itemStyle: { color: '#22f0f0' } },
    { name: 'Amp Cluster 5', type: 'scatter', xAxisIndex: 1, yAxisIndex: 4, data: ampCluster5, z: 2, symbolSize: 4.5, itemStyle: { color: '#ff00ff' } },

    { name: 'Cum Energy Cluster 1', type: 'line', xAxisIndex: 1, yAxisIndex: 3, data: toLog(cumCluster1), symbol: 'none', showSymbol: false, z: 3,
      lineStyle: { color: '#ff0000', width: 1.5 }, itemStyle: { color: '#ff0000' },
      markLine: { silent: true, z: 1, animation: false, symbol: ['none', 'none'], label: { show: false },
        lineStyle: { color: '#d9e6f2', type: [4, 3], width: 1 }, data: rightDecadeGrid } },
    { name: 'Cum Energy Cluster 2', type: 'line', xAxisIndex: 1, yAxisIndex: 3, data: toLog(cumCluster2), symbol: 'none', showSymbol: false, z: 3,
      lineStyle: { color: '#00e600', width: 1.5 }, itemStyle: { color: '#00e600' } },
    { name: 'Cum Energy Cluster 3', type: 'line', xAxisIndex: 1, yAxisIndex: 3, data: toLog(cumCluster3), symbol: 'none', showSymbol: false, z: 3,
      lineStyle: { color: '#0000ff', width: 1.5 }, itemStyle: { color: '#0000ff' } },
    { name: 'Cum Energy Cluster 4', type: 'line', xAxisIndex: 1, yAxisIndex: 3, data: toLog(cumCluster4), symbol: 'none', showSymbol: false, z: 3,
      lineStyle: { color: '#00f0f0', width: 1.5 }, itemStyle: { color: '#00f0f0' } },
    { name: 'Cum Energy Cluster 5', type: 'line', xAxisIndex: 1, yAxisIndex: 3, data: toLog(cumCluster5), symbol: 'none', showSymbol: false, z: 3,
      lineStyle: { color: '#ff00ff', width: 1.5 }, itemStyle: { color: '#ff00ff' } },
    { name: 'Experimental data', type: 'line', xAxisIndex: 1, yAxisIndex: 5, data: experimental, symbol: 'none', showSymbol: false, z: 5,
      lineStyle: { color: '#000', width: 1.5 }, itemStyle: { color: '#000' } }
  ]
};
chart.setOption(option);
</script></body></html>
